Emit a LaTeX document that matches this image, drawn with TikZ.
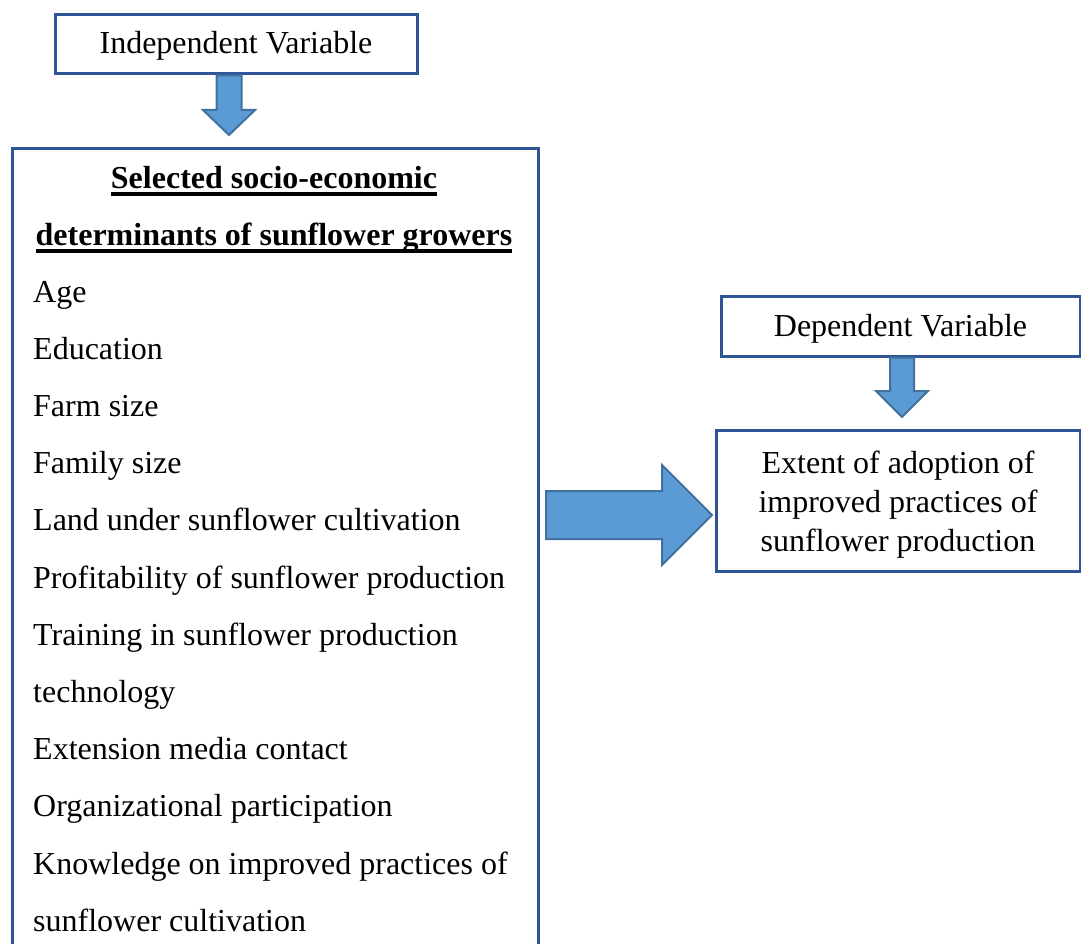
\documentclass[tikz,border=0pt]{standalone}
\usepackage{fontspec}
\setmainfont{Liberation Serif}
\usetikzlibrary{calc}

\definecolor{boxblue}{RGB}{47,85,151}
\definecolor{arrowfill}{RGB}{91,155,213}
\definecolor{arrowline}{RGB}{65,113,156}

% heading underline, kept at a fixed distance below the baseline
\newcommand{\ulined}[1]{\vtop{\setbox0\hbox{#1}\dp0=0pt\box0\kern3.5pt\hrule height 4pt}}

% block arrow from #1 to #2: half shaft width, half head width, head length
\newcommand{\blockarrow}[5]{%
	\coordinate (ba) at ($(#2)!#5!(#1)$);
	\filldraw[blk] ($(#1)!#3!90:(#2)$) -- ($(ba)!#3!90:(#2)$) -- ($(ba)!#4!90:(#2)$) -- (#2)
		-- ($(ba)!#4!-90:(#2)$) -- ($(ba)!#3!-90:(#2)$) -- ($(#1)!#3!-90:(#2)$) -- cycle;}

\begin{document}
\begin{tikzpicture}[x=1pt, y=-1pt, font=\fontsize{32}{38}\selectfont,
		box/.style={draw=boxblue, line width=3pt, inner sep=0pt},
		blk/.style={fill=arrowfill, draw=arrowline, line width=2pt, line join=miter},
		hd/.style={anchor=base, inner sep=0pt, font=\fontsize{32}{38}\selectfont\bfseries},
		lbl/.style={anchor=base west, inner sep=0pt}]
		\useasboundingbox (0,0) rectangle (1081,944);

		\node[box, minimum width=362pt, minimum height=59pt, text height=27pt, text depth=8pt] (indep) at (236,44.5) {Independent Variable};
		\node[box, anchor=north west, minimum width=526pt, minimum height=830pt] (det) at (11,147) {};
		\node[box, minimum width=359pt, minimum height=60pt, text height=28pt, text depth=8pt] (dep) at (900.5,326) {Dependent Variable};
		\node[box, minimum width=364pt, minimum height=141pt, align=center, font=\fontsize{32}{39}\selectfont] (ext) at (898,500.5)
			{\rule{0pt}{30pt}Extent of adoption of\\improved practices of\\sunflower production};

		\node[hd] (title1) at (274,189) {\ulined{Selected socio-economic}};
		\node[hd] (title2) at (274,245) {\ulined{determinants of sunflower growers}};

		\foreach \t [count=\i] in {Age, Education, Farm size, Family size, Land under sunflower cultivation,
			Profitability of sunflower production, Training in sunflower production, technology,
			Extension media contact, Organizational participation, Knowledge on improved practices of,
			sunflower cultivation}
			\node[lbl] (item\i) at (33, {302+57.2*(\i-1)}) {\t};

		\coordinate (a1) at (229,135);
		\coordinate (a0) at (indep.south -| a1);
		\blockarrow{a0}{a1}{12.5pt}{26pt}{25pt}

		\coordinate (b0) at (546,515);
		\coordinate (b1) at (712,515);
		\blockarrow{b0}{b1}{24pt}{50pt}{50pt}

		\coordinate (c1) at (902,417);
		\coordinate (c0) at (dep.south -| c1);
		\blockarrow{c0}{c1}{12pt}{26pt}{26pt}
	\end{tikzpicture}
\end{document}
